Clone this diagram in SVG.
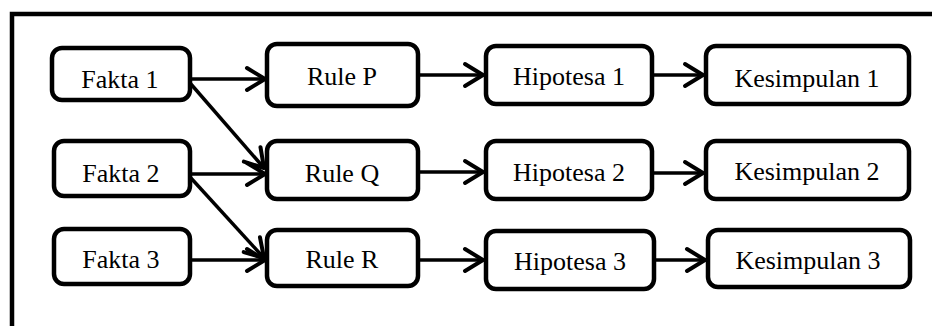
<svg xmlns="http://www.w3.org/2000/svg" width="932" height="326" viewBox="0 0 932 326">
<defs>
<style>
.box{fill:#fff;stroke:#000;stroke-width:4.5}
.lbl{font-family:"Liberation Serif","Times New Roman",serif;font-size:26px;fill:#000;text-anchor:middle}
.edge{stroke:#000;stroke-width:3.5;fill:none}
</style>
<marker id="arr" markerUnits="userSpaceOnUse" markerWidth="26" markerHeight="30" viewBox="-23 -15 26 30" refX="0" refY="0" orient="auto">
<path d="M-18,-11 L0,0 L-18,11" fill="none" stroke="#000" stroke-width="4" stroke-linecap="round" stroke-linejoin="round"/>
</marker>
</defs>
<rect width="932" height="326" fill="#fff"/>
<path d="M12,330 V14 H936" fill="none" stroke="#000" stroke-width="4.5"/>
<g id="connectors">
<line class="edge" x1="190" y1="79" x2="265" y2="79" marker-end="url(#arr)"/>
<line class="edge" x1="190" y1="83" x2="264" y2="168" marker-end="url(#arr)"/>
<line class="edge" x1="190" y1="174" x2="265" y2="174" marker-end="url(#arr)"/>
<line class="edge" x1="190" y1="177" x2="264" y2="258" marker-end="url(#arr)"/>
<line class="edge" x1="190" y1="260" x2="265" y2="260" marker-end="url(#arr)"/>
<line class="edge" x1="420" y1="75" x2="483" y2="75" marker-end="url(#arr)"/>
<line class="edge" x1="420" y1="172" x2="483" y2="172" marker-end="url(#arr)"/>
<line class="edge" x1="420" y1="260" x2="483" y2="260" marker-end="url(#arr)"/>
<line class="edge" x1="654" y1="75" x2="703" y2="75" marker-end="url(#arr)"/>
<line class="edge" x1="654" y1="173" x2="703" y2="173" marker-end="url(#arr)"/>
<line class="edge" x1="656" y1="260" x2="705" y2="260" marker-end="url(#arr)"/>
</g>
<g id="fakta1"><rect class="box" x="52" y="48" width="138" height="52" rx="10"/><text class="lbl" x="120" y="88">Fakta 1</text></g>
<g id="fakta2"><rect class="box" x="54" y="141" width="136" height="55" rx="10"/><text class="lbl" x="121" y="182">Fakta 2</text></g>
<g id="fakta3"><rect class="box" x="54" y="229" width="136" height="55" rx="10"/><text class="lbl" x="121" y="268">Fakta 3</text></g>
<g id="ruleP"><rect class="box" x="267" y="44" width="151" height="62" rx="10"/><text class="lbl" x="342" y="85">Rule P</text></g>
<g id="ruleQ"><rect class="box" x="267" y="141" width="151" height="58" rx="10"/><text class="lbl" x="342" y="182">Rule Q</text></g>
<g id="ruleR"><rect class="box" x="267" y="230" width="151" height="56" rx="10"/><text class="lbl" x="342" y="268">Rule R</text></g>
<g id="hipotesa1"><rect class="box" x="486" y="46" width="166" height="58" rx="10"/><text class="lbl" x="569" y="85">Hipotesa 1</text></g>
<g id="hipotesa2"><rect class="box" x="486" y="141" width="166" height="58" rx="10"/><text class="lbl" x="569" y="181">Hipotesa 2</text></g>
<g id="hipotesa3"><rect class="box" x="486" y="231" width="168" height="58" rx="10"/><text class="lbl" x="570" y="270">Hipotesa 3</text></g>
<g id="kesimpulan1"><rect class="box" x="706" y="46" width="203" height="58" rx="10"/><text class="lbl" x="807" y="87">Kesimpulan 1</text></g>
<g id="kesimpulan2"><rect class="box" x="706" y="141" width="203" height="58" rx="10"/><text class="lbl" x="807" y="180">Kesimpulan 2</text></g>
<g id="kesimpulan3"><rect class="box" x="708" y="230" width="202" height="57" rx="10"/><text class="lbl" x="808" y="269">Kesimpulan 3</text></g>
</svg>
